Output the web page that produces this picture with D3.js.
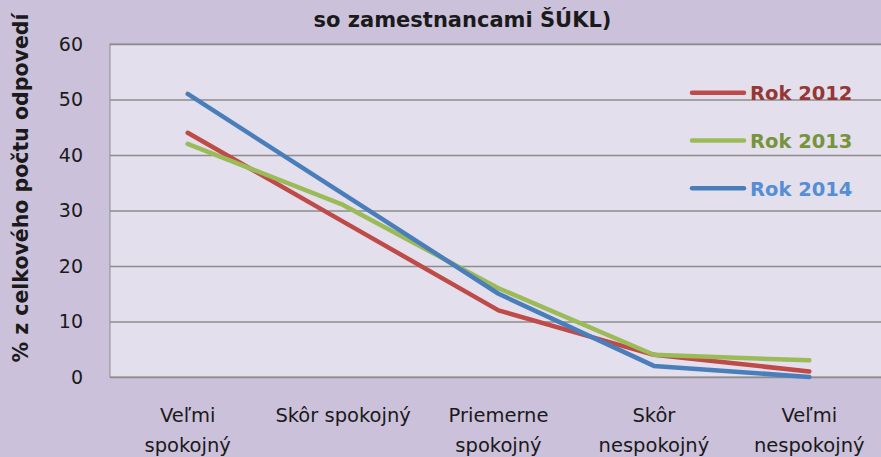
<!DOCTYPE html>
<html>
<head>
<meta charset="utf-8">
<script src="https://cdn.jsdelivr.net/npm/d3@7"></script>
<style>
  body { margin: 0; background: #CCC1DA; }
  svg { display: block; }
  text { font-family: "DejaVu Sans", sans-serif; fill: #1a1a1a; }
</style>
</head>
<body>
<div class="canva"></div>
<script>
const categories = [
    ["Veľmi", "spokojný"],
    ["Skôr spokojný"],
    ["Priemerne", "spokojný"],
    ["Skôr", "nespokojný"],
    ["Veľmi", "nespokojný"]
];
const yTicks = [0, 10, 20, 30, 40, 50, 60];
const rok2012 = [44, 28, 12, 4, 1];
const rok2013 = [42, 31, 16, 4, 3];
const rok2014 = [51, 33, 15, 2, 0];
const seriesNames = ["Rok 2012", "Rok 2013", "Rok 2014"];

const series = [
    { name: seriesNames[0], values: rok2012, color: "#BE4B48", text: "#953735" },
    { name: seriesNames[1], values: rok2013, color: "#9BBB59", text: "#77933C" },
    { name: seriesNames[2], values: rok2014, color: "#4A7EBB", text: "#558ED5" }
];

const W = 881, H = 457;
const plotLeft = 110, plotRight = 887, plotTop = 44, plotBottom = 377;

const svg = d3.select(".canva").append("svg")
    .attr("width", W)
    .attr("height", H);

svg.append("rect")
    .attr("width", W).attr("height", H)
    .attr("fill", "#CCC1DA");

const x = d3.scaleBand()
    .domain(d3.range(categories.length))
    .range([plotLeft, plotRight]);

const y = d3.scaleLinear()
    .domain([0, 60])
    .range([plotBottom, plotTop]);

// plot area
svg.append("rect")
    .attr("x", plotLeft).attr("y", plotTop)
    .attr("width", plotRight - plotLeft).attr("height", plotBottom - plotTop)
    .attr("fill", "#E4DFEC")
    .attr("stroke", "#8c8c8c")
    .attr("stroke-width", 1);

// gridlines + y labels
const yAxis = d3.axisLeft(y).tickValues(yTicks).tickSize(-(plotRight - plotLeft)).tickPadding(27);
const gy = svg.append("g")
    .attr("transform", `translate(${plotLeft},0)`)
    .call(yAxis);
gy.select(".domain").remove();
gy.selectAll(".tick line").attr("stroke", "#8c8c8c").attr("stroke-width", 1.3);
gy.selectAll(".tick text")
    .attr("font-size", 19)
    .attr("fill", "#1a1a1a")
    .style("font-family", "'DejaVu Sans', sans-serif");

// x category labels
const gx = svg.append("g");
categories.forEach((lines, i) => {
    const t = gx.append("text")
        .attr("x", x(i) + x.bandwidth() / 2)
        .attr("y", 421.5)
        .attr("text-anchor", "middle")
        .attr("font-size", 19.5);
    lines.forEach((l, j) => {
        t.append("tspan")
            .attr("x", x(i) + x.bandwidth() / 2)
            .attr("dy", j === 0 ? 0 : 30)
            .text(l);
    });
});

// lines
const line = d3.line()
    .x((d, i) => x(i) + x.bandwidth() / 2)
    .y(d => y(d));

series.forEach(s => {
    svg.append("path")
        .datum(s.values)
        .attr("d", line)
        .attr("fill", "none")
        .attr("stroke", s.color)
        .attr("stroke-width", 4.5)
        .attr("stroke-linecap", "round")
        .attr("stroke-linejoin", "round");
});

// legend
series.forEach((s, i) => {
    const ly = 92.7 + i * 47.8;
    svg.append("line")
        .attr("x1", 692).attr("x2", 744)
        .attr("y1", ly).attr("y2", ly)
        .attr("stroke", s.color)
        .attr("stroke-width", 4.5)
        .attr("stroke-linecap", "round");
    svg.append("text")
        .attr("x", 750).attr("y", ly + 7.5)
        .attr("font-size", 19.5)
        .attr("font-weight", "bold")
        .style("fill", s.text)
        .text(s.name);
});

// title (second line visible)
svg.append("text")
    .attr("x", 462.5).attr("y", 26.7)
    .attr("text-anchor", "middle")
    .attr("font-size", 21)
    .attr("font-weight", "bold")
    .text("so zamestnancami ŠÚKL)");

// y axis title
svg.append("text")
    .attr("transform", "translate(28,188) rotate(-90)")
    .attr("text-anchor", "middle")
    .attr("font-size", 20.5)
    .attr("font-weight", "bold")
    .text("% z celkového počtu odpovedí");
</script>
</body>
</html>
